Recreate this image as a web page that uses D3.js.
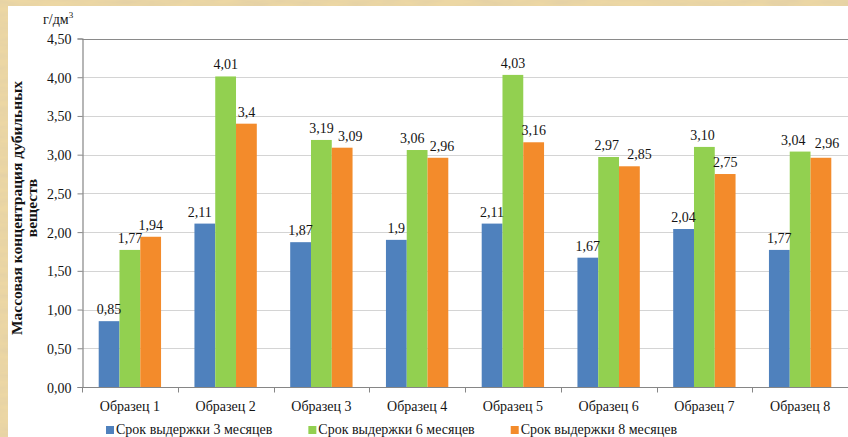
<!DOCTYPE html>
<html>
<head>
<meta charset="utf-8">
<script src="https://cdn.jsdelivr.net/npm/d3@7"></script>
<style>
  html, body { margin: 0; padding: 0; background: #e3c98e; }
  svg { display: block; }
  text { font-family: "Liberation Serif", "Times New Roman", serif; fill: #141414; }
</style>
</head>
<body>
<svg id="chart" width="848" height="437"></svg>
<script>
// Samples and aging periods
const categories = ["Образец 1", "Образец 2", "Образец 3", "Образец 4",
                    "Образец 5", "Образец 6", "Образец 7", "Образец 8"];
const seriesNames = ["Срок выдержки 3 месяцев", "Срок выдержки 6 месяцев", "Срок выдержки 8 месяцев"];

// Mass concentration of tannins, g/dm³
const months3 = [0.85, 2.11, 1.87, 1.9, 2.11, 1.67, 2.04, 1.77];
const months6 = [1.77, 4.01, 3.19, 3.06, 4.03, 2.97, 3.10, 3.04];
const months8 = [1.94, 3.4, 3.09, 2.96, 3.16, 2.85, 2.75, 2.96];

// Label text as printed on the chart (some values shown with fewer decimals)
const labels3 = ["0,85", "2,11", "1,87", "1,9", "2,11", "1,67", "2,04", "1,77"];
const labels6 = ["1,77", "4,01", "3,19", "3,06", "4,03", "2,97", "3,10", "3,04"];
const labels8 = ["1,94", "3,4", "3,09", "2,96", "3,16", "2,85", "2,75", "2,96"];

const yTicks = [0, 0.5, 1, 1.5, 2, 2.5, 3, 3.5, 4, 4.5];

const colors = ["#4f81bd", "#92d050", "#f38b2b"];

// Hand-placed label nudges (series index, category index) -> [dx, dy]
const labelNudge = {
  "0-1": [-5, 0],
  "1-3": [-5, 0], "2-3": [4, 0],
  "2-2": [8, 0],
  "1-5": [-2, 0], "2-5": [10, 0],
  "1-6": [-2, 0],
  "1-7": [-7, 0], "2-7": [6, -3]
};

const svg = d3.select("#chart");
const W = 848, H = 437;

// Parchment backdrop
const defs = svg.append("defs");
const f = defs.append("filter").attr("id", "parchment")
  .attr("x", 0).attr("y", 0).attr("width", "100%").attr("height", "100%");
f.append("feTurbulence").attr("type", "fractalNoise")
  .attr("baseFrequency", "0.03 0.15").attr("numOctaves", 4).attr("seed", 7).attr("result", "noise");
f.append("feColorMatrix").attr("in", "noise").attr("type", "matrix")
  .attr("values", "0 0 0 0 0.78  0 0 0 0 0.64  0 0 0 0 0.38  0 0 0 -1.8 1.25")
  .attr("result", "tint");
f.append("feComposite").attr("in", "tint").attr("in2", "SourceGraphic").attr("operator", "over");

svg.append("rect").attr("width", W).attr("height", H).attr("fill", "#e6cd93");
svg.append("rect").attr("width", W).attr("height", H).attr("fill", "#ecd7a4").attr("filter", "url(#parchment)");

// White chart panel
svg.append("rect").attr("x", 8).attr("y", 6).attr("width", W - 8).attr("height", H - 6).attr("fill", "#ffffff");

const plot = { left: 82, right: 848, top: 38.5, bottom: 387 };

const x = d3.scaleBand().domain(categories).range([plot.left, plot.right]).paddingInner(0).paddingOuter(0);
const groupPad = 16.7;
const xs = d3.scaleBand().domain(d3.range(3)).range([groupPad, x.bandwidth() - groupPad]).padding(0);
const y = d3.scaleLinear().domain([0, 4.5]).range([plot.bottom, plot.top]);

// Gridlines
svg.append("g").selectAll("line").data(yTicks.filter(t => t > 0 && t < 4.5)).join("line")
  .attr("x1", plot.left).attr("x2", plot.right)
  .attr("y1", d => Math.round(y(d)) + 0.5).attr("y2", d => Math.round(y(d)) + 0.5)
  .attr("stroke", "#d4d4d4").attr("stroke-width", 1.2);

// Plot top border
svg.append("line").attr("x1", plot.left).attr("x2", plot.right)
  .attr("y1", Math.round(y(4.5)) + 0.5).attr("y2", Math.round(y(4.5)) + 0.5)
  .attr("stroke", "#8a8a8a").attr("stroke-width", 1.2);

// Bars
const series = [months3, months6, months8];
const seriesLabels = [labels3, labels6, labels8];
const bars = [];
series.forEach((vals, s) => vals.forEach((v, i) => bars.push({ s, i, v, label: seriesLabels[s][i] })));

svg.append("g").selectAll("rect").data(bars).join("rect")
  .attr("x", d => x(categories[d.i]) + xs(d.s))
  .attr("width", xs.bandwidth())
  .attr("y", d => y(d.v))
  .attr("height", d => y(0) - y(d.v))
  .attr("fill", d => colors[d.s]);

// Value labels
svg.append("g").selectAll("text").data(bars).join("text")
  .attr("x", d => x(categories[d.i]) + xs(d.s) + xs.bandwidth() / 2 + (labelNudge[d.s + "-" + d.i] || [0, 0])[0])
  .attr("y", d => y(d.v) - 7 + (labelNudge[d.s + "-" + d.i] || [0, 0])[1])
  .attr("text-anchor", "middle")
  .attr("font-size", 14)
  .text(d => d.label);

// Y axis
const fmt = v => d3.format(".2f")(v).replace(".", ",");
const yAxis = svg.append("g").attr("transform", `translate(${plot.left + 0.5},0)`)
  .call(d3.axisLeft(y).tickValues(yTicks).tickFormat(fmt).tickSize(5).tickPadding(6));
yAxis.select(".domain").attr("stroke", "#868686").attr("stroke-width", 1.2);
yAxis.selectAll(".tick line").attr("stroke", "#868686");
yAxis.selectAll(".tick text").attr("font-size", 14).attr("font-family", "Liberation Serif").attr("fill", "#141414")
  .attr("dy", "0.36em");

// X axis (ticks between categories)
const xAxisG = svg.append("g").attr("transform", `translate(0,${Math.round(plot.bottom) + 0.5})`);
xAxisG.append("line").attr("x1", plot.left).attr("x2", plot.right).attr("stroke", "#868686").attr("stroke-width", 1.2);
xAxisG.selectAll("line.tk").data(categories).join("line").attr("class", "tk")
  .attr("x1", d => Math.round(x(d)) + 0.5).attr("x2", d => Math.round(x(d)) + 0.5)
  .attr("y1", 0).attr("y2", 5).attr("stroke", "#868686");
xAxisG.selectAll("text").data(categories).join("text")
  .attr("x", d => x(d) + x.bandwidth() / 2).attr("y", 23)
  .attr("text-anchor", "middle").attr("font-size", 14)
  .text(d => d);

// Unit label
const unit = svg.append("text").attr("x", 43).attr("y", 24).attr("font-size", 14);
unit.append("tspan").text("г/дм");
unit.append("tspan").attr("font-size", 9).attr("dy", -6).text("3");

// Y axis title
const title = svg.append("text").attr("font-weight", "bold").attr("font-size", 15.5)
  .attr("text-anchor", "middle").attr("transform", "translate(0,208) rotate(-90)");
title.append("tspan").attr("x", 0).attr("y", 22).text("Массовая концентрация дубильных");
title.append("tspan").attr("x", 0).attr("y", 37).text("веществ");

// Legend
const legend = svg.append("g").attr("transform", "translate(106,434)");
let lx = 0;
seriesNames.forEach((name, s) => {
  const g = legend.append("g").attr("transform", `translate(${lx},0)`);
  g.append("rect").attr("x", 0).attr("y", -8).attr("width", 8).attr("height", 8).attr("fill", colors[s]);
  const t = g.append("text").attr("x", 10).attr("y", 0).attr("font-size", 14).text(name);
  lx += 10 + t.node().getComputedTextLength() + 36;
});
</script>
</body>
</html>
